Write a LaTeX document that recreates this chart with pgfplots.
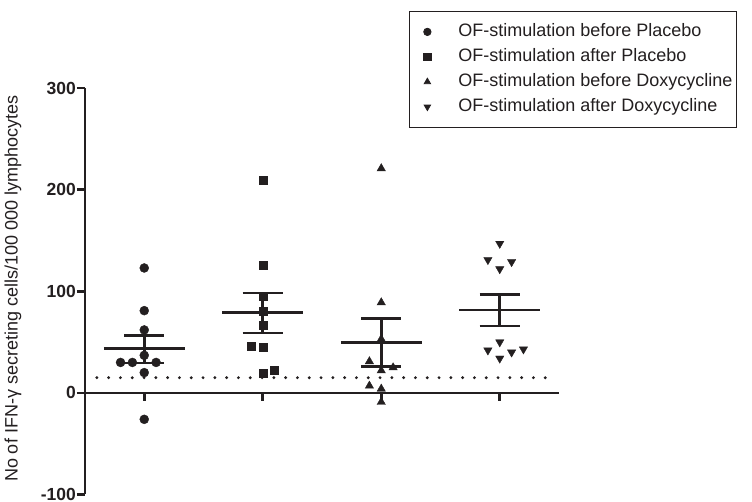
\documentclass[border=0pt]{standalone}
\usepackage{pgfplots}
\pgfplotsset{compat=1.18}
\usepackage{fontspec}
\setmainfont{Liberation Sans}
\definecolor{ink}{RGB}{35,31,32}

\begin{document}
\begin{tikzpicture}
\useasboundingbox (-85pt,-7.5pt) rectangle (667pt,494.5pt);
\begin{axis}[
  scale only axis, width=474pt, height=406.3pt,
  at={(0pt,0pt)}, anchor=south west,
  xmin=0.5, xmax=4.5, ymin=-100, ymax=300,
  axis y line=left, axis x line=middle,
  hide obscured x ticks=false, hide obscured y ticks=false,
  axis line style={-, line width=2.6pt, ink},
  every tick/.style={line width=2.6pt, ink},
  major tick length=8pt,
  tick align=outside,
  xtick={1,2,3,4}, xticklabels={},
  ytick={-100,0,100,200,300},
  /pgf/number format/assume math mode=true,
  yticklabel style={font=\fontsize{17.5}{17.5}\selectfont\bfseries, text=ink, inner sep=1pt},
  ylabel={No of IFN-γ secreting cells/100 000 lymphocytes},
  ylabel style={at={(axis description cs:-0.152,0.506)}, anchor=center, font=\fontsize{18}{18}\selectfont, text=ink},
  clip=false,
  unbounded coords=jump,
  legend cell align=left,
  legend style={at={(axis description cs:0.6835,1.19)}, anchor=north west,
    draw=ink, line width=0.8pt, fill=white, inner xsep=4pt, inner ysep=8pt,
    row sep=0pt, font=\fontsize{18}{18}\selectfont, text=ink,
    nodes={inner sep=0pt, text height=17pt, text depth=8pt}},
  legend image code/.code={\path[draw=none, fill=none] (0pt,-4pt) rectangle (45pt,4pt);
    \draw[#1, mark size=3.7pt] plot coordinates {(14pt,0pt)};},
]
% individual values
\addplot[only marks, mark=*, mark size=4.5pt, ink] coordinates {
  (1,123) (1,81) (1,62) (1,37) (0.8,30) (0.9,30) (1.1,30) (1,20) (1,-26)};
\addlegendentry{OF-stimulation before Placebo}
\addplot[only marks, mark=square*, mark size=4pt, ink] coordinates {
  (2,209) (2,126) (2,95) (2,80) (2,67) (1.9,46) (2,45) (2,19) (2.1,22)};
\addlegendentry{OF-stimulation after Placebo}
\addplot[only marks, mark=triangle*, mark size=4.8pt, ink] coordinates {
  (3,221) (3,89) (3,53) (2.9,31) (3,22) (3.1,25) (2.9,7) (3,4) (3,-9)};
\addlegendentry{OF-stimulation before Doxycycline}
\addplot[only marks, mark=triangle*, mark size=4.8pt, mark options={rotate=180}, ink] coordinates {
  (4,147) (3.9,131) (4.1,129) (4,122) (4,50) (3.9,42) (4.1,40) (4.2,43) (4,34)};
\addlegendentry{OF-stimulation after Doxycycline}
% cut-off line
\addplot[ink, line width=3.2pt, line cap=round, dash pattern=on 0pt off 11.8pt, forget plot]
  coordinates {(0.6,15) (4.44,15)};
% mean and SEM
\addplot[ink, line width=2.6pt, forget plot] coordinates {
  (0.66,43.6) (1.34,43.6) (1,nan)
  (0.83,56.8) (1.17,56.8) (1,nan)
  (0.83,29.6) (1.17,29.6) (1,nan)
  (1,29.6) (1,56.8)};
\addplot[ink, line width=2.6pt, forget plot] coordinates {
  (1.66,79) (2.34,79) (2,nan)
  (1.83,98.5) (2.17,98.5) (2,nan)
  (1.83,59) (2.17,59) (2,nan)
  (2,59) (2,98.5)};
\addplot[ink, line width=2.6pt, forget plot] coordinates {
  (2.66,49.6) (3.34,49.6) (3,nan)
  (2.83,73) (3.17,73) (3,nan)
  (2.83,26.3) (3.17,26.3) (3,nan)
  (3,26.3) (3,73)};
\addplot[ink, line width=2.6pt, forget plot] coordinates {
  (3.66,81.5) (4.34,81.5) (4,nan)
  (3.83,96.8) (4.17,96.8) (4,nan)
  (3.83,65.7) (4.17,65.7) (4,nan)
  (4,65.7) (4,96.8)};
\end{axis}
\end{tikzpicture}
\end{document}
